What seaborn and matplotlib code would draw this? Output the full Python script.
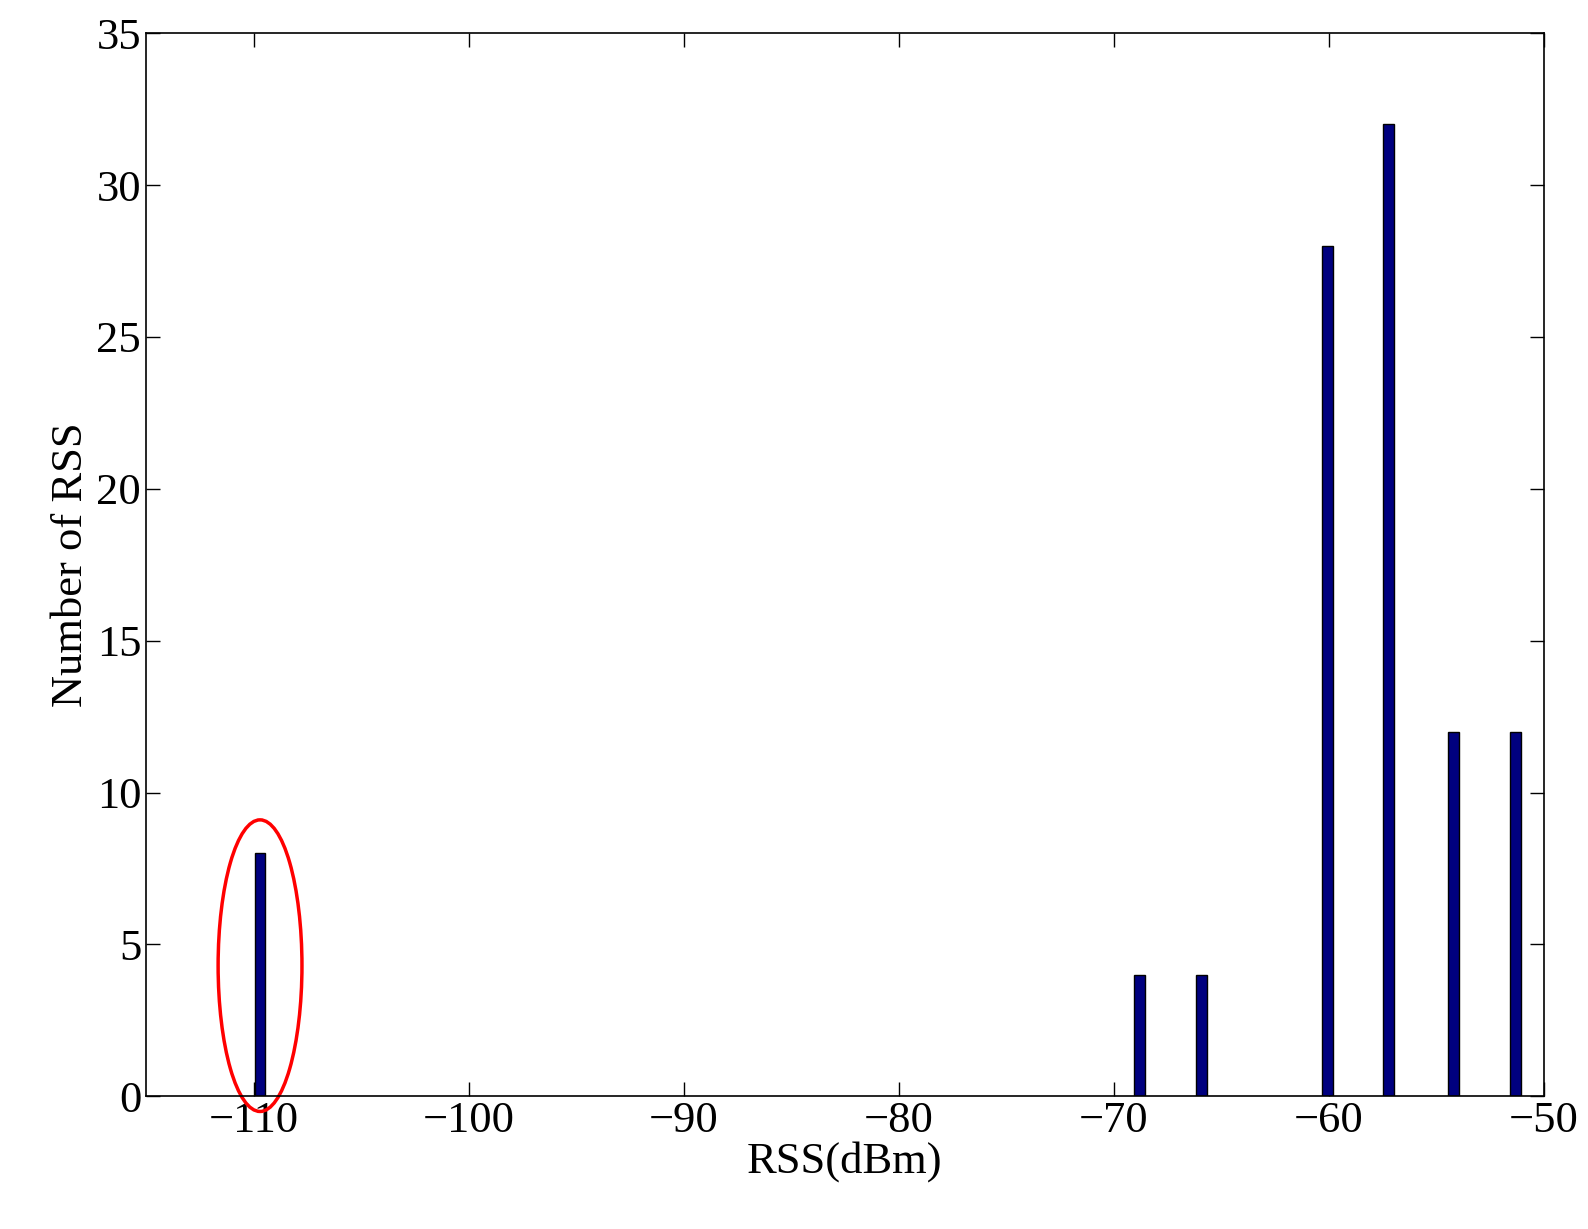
import matplotlib
matplotlib.use("Agg")
import matplotlib.pyplot as plt
from matplotlib.patches import Ellipse
import seaborn as sns
import pandas as pd

# RSS bin centres (dBm) and counts
rss_dbm = [-109.7, -68.8, -65.9, -60.05, -57.2, -54.2, -51.3]
counts = [8, 4, 4, 28, 32, 12, 12]

sns.set_theme(style="ticks")
plt.rcParams['font.family'] = ['Liberation Serif', 'DejaVu Serif']
plt.rcParams['axes.unicode_minus'] = True
plt.rcParams['text.color'] = 'black'
plt.rcParams['axes.labelcolor'] = 'black'
plt.rcParams['xtick.color'] = 'black'
plt.rcParams['ytick.color'] = 'black'
plt.rcParams['axes.edgecolor'] = 'black'

df = pd.DataFrame({'rss': rss_dbm, 'n': counts})

fig, ax = plt.subplots(figsize=(15.88, 12.29), dpi=100)
ax.bar(df['rss'], df['n'], width=0.5, color='#00007f', edgecolor='black', linewidth=1)

# highlight the outlier bin
ax.add_patch(Ellipse((-109.7, 4.3), 3.9, 9.6, fill=False, edgecolor='red',
                     linewidth=2.5, clip_on=False))

ax.set_xlim(-115, -50)
ax.set_ylim(0, 35)
ax.set_xticks(range(-110, -49, 10))
ax.set_yticks(range(0, 36, 5))
ax.tick_params(direction='in', top=True, right=True, labelsize=32, length=10, width=1)
for s in ax.spines.values():
    s.set_linewidth(1.2)
ax.set_xlabel('RSS(dBm)', fontsize=32, labelpad=0)
ax.set_ylabel('Number of RSS', fontsize=32)

plt.subplots_adjust(left=0.092, right=0.972, top=0.973, bottom=0.108)
plt.savefig('out.png', dpi=100)
